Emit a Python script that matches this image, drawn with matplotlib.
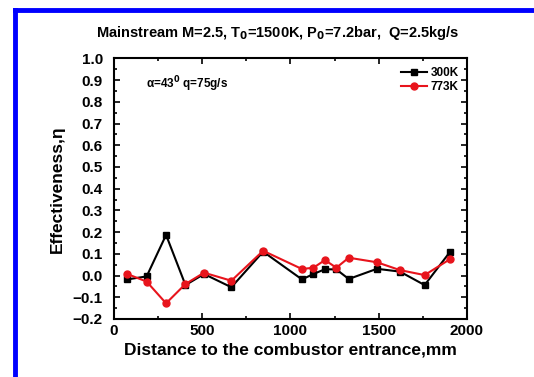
import matplotlib
matplotlib.use("Agg")
import matplotlib.pyplot as plt
from matplotlib.lines import Line2D
from matplotlib.ticker import MultipleLocator

plt.rcParams['font.family'] = ['Liberation Sans', 'DejaVu Sans']
plt.rcParams['font.weight'] = 'bold'

distance = [75, 185, 295, 405, 510, 665, 845, 1065, 1130, 1195, 1260, 1330, 1490, 1620, 1760, 1905]
eta_300K = [-0.018, -0.004, 0.187, -0.044, 0.007, -0.054, 0.110, -0.018, 0.007, 0.029, 0.028, -0.016, 0.031, 0.018, -0.044, 0.110]
eta_773K = [0.007, -0.028, -0.128, -0.039, 0.013, -0.024, 0.114, 0.030, 0.036, 0.071, 0.036, 0.082, 0.061, 0.025, 0.002, 0.076]

fig = plt.figure(figsize=(5.34, 3.77), dpi=100)
ax = fig.add_axes([0.2135, 0.154, 0.661, 0.691])

ax.plot(distance, eta_300K, color='black', marker='s', markersize=4.5, linewidth=1.5, label='300K')
ax.plot(distance, eta_773K, color='#e8141c', marker='o', markersize=5, linewidth=1.5, label='773K')

ax.set_xlim(0, 2000)
ax.set_ylim(-0.2, 1.0)
ax.xaxis.set_major_locator(MultipleLocator(500))
ax.xaxis.set_minor_locator(MultipleLocator(250))
ax.yaxis.set_major_locator(MultipleLocator(0.1))
ax.yaxis.set_minor_locator(MultipleLocator(0.05))
ax.tick_params(which='both', direction='in', top=True, right=True, labelsize=11, width=1.2)
ax.tick_params(axis='y', pad=8)
ax.tick_params(axis='x', pad=4)
ax.tick_params(which='major', length=4)
ax.tick_params(which='minor', length=2)
for lab in ax.get_xticklabels() + ax.get_yticklabels():
    lab.set_fontweight('bold')
for s in ax.spines.values():
    s.set_linewidth(1.5)

ax.set_xlabel('Distance to the combustor entrance,mm', fontsize=12.5, fontweight='bold', labelpad=3)
ax.set_ylabel('Effectiveness,\u03b7', fontsize=12.5, fontweight='bold', labelpad=6)

fig.text(0.52, 0.912, 'Mainstream M=2.5, T$_\\mathbf{0}$=1500K, P$_\\mathbf{0}$=7.2bar,  Q=2.5kg/s',
         ha='center', va='center', fontsize=10.5, fontweight='bold')
ax.text(0.09, 0.9, '\u03b1=43$^{\\mathbf{0}}$ q=75g/s', transform=ax.transAxes,
        fontsize=8.5, fontweight='bold', va='center')

ax.legend(loc='upper right', frameon=False, handlelength=2.2,
          borderaxespad=0.3, handletextpad=0.3, labelspacing=0.2,
          prop={'weight': 'bold', 'size': 8.5})

# blue frame (top and left)
fig.add_artist(Line2D([15/534, 1.0], [1 - 10/377, 1 - 10/377], color='#0000ff', linewidth=3.5, transform=fig.transFigure))
fig.add_artist(Line2D([15/534, 15/534], [0.0, 1 - 10/377], color='#0000ff', linewidth=3.5, transform=fig.transFigure))

fig.savefig('out.png', dpi=100)
